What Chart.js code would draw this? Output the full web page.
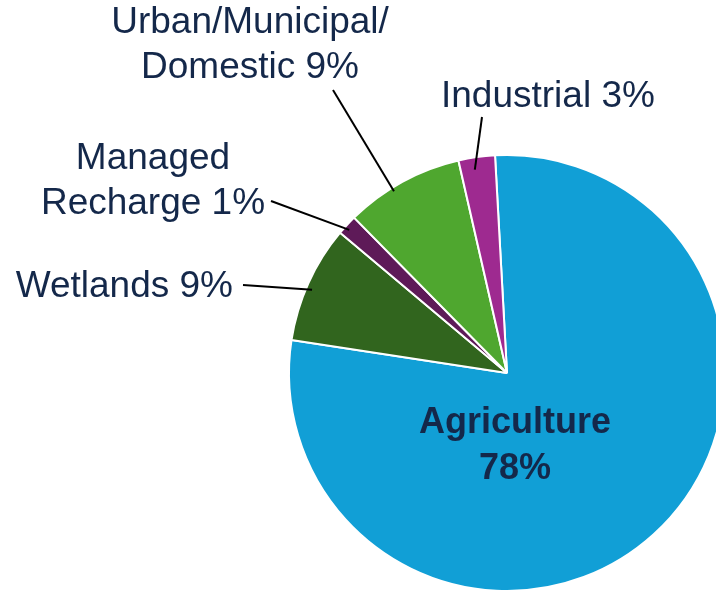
<!DOCTYPE html>
<html>
<head>
<meta charset="utf-8">
<script src="https://cdn.jsdelivr.net/npm/chart.js@4.4.1/dist/chart.umd.min.js"></script>
<style>
  html, body { margin: 0; padding: 0; background: #fff; overflow: hidden; }
  #wrap { position: relative; width: 740px; height: 600px; }
</style>
</head>
<body>
<div id="wrap"><canvas id="graficoUso"></canvas></div>
<script>
// Datos
const categorias = ['Agriculture', 'Wetlands', 'Managed Recharge', 'Urban/Municipal/Domestic', 'Industrial'];
const valores = [78.3, 8.7, 1.5, 8.8, 2.7];
const etiquetas = ['78%', '9%', '1%', '9%', '3%'];
const colores = ['#119fd6', '#31651e', '#5e1a58', '#4fa72f', '#9e2a90'];

const colorTexto = '#14284a';
const fuente = "'Liberation Sans', Arial, sans-serif";

// Posición de los rótulos externos (índice de la porción -> texto y línea guía)
// frac: punto a lo largo de la porción donde termina la línea
const rotulos = [
    { idx: 1, lineas: ['Wetlands ' + etiquetas[1]], x: 233, y: 297, align: 'right', desde: [243, 285], hondo: 6, frac: 0.46 },
    { idx: 2, lineas: ['Managed', 'Recharge ' + etiquetas[2]], x: 153, y: 169, align: 'center', desde: [271, 201], hondo: 5, frac: 0.4 },
    { idx: 3, lineas: ['Urban/Municipal/', 'Domestic ' + etiquetas[3]], x: 250, y: 33, align: 'center', desde: [333, 90], hondo: 4, frac: 0.4 },
    { idx: 4, lineas: ['Industrial ' + etiquetas[4]], x: 441, y: 107, align: 'left', desde: [482, 117], hondo: 12, frac: 0.4 }
];

const pluginRotulos = {
    id: 'rotulos',
    afterDatasetsDraw(chart) {
        const ctx = chart.ctx;
        const arcs = chart.getDatasetMeta(0).data;
        ctx.save();

        // líneas guía
        ctx.strokeStyle = '#000';
        ctx.lineWidth = 2;
        rotulos.forEach(r => {
            const p = arcs[r.idx].getProps(['x', 'y', 'startAngle', 'endAngle', 'outerRadius'], true);
            const ang = p.startAngle + (p.endAngle - p.startAngle) * r.frac;
            const rr = p.outerRadius - r.hondo;
            ctx.beginPath();
            ctx.moveTo(r.desde[0], r.desde[1]);
            ctx.lineTo(p.x + Math.cos(ang) * rr, p.y + Math.sin(ang) * rr);
            ctx.stroke();
        });

        // textos
        ctx.fillStyle = colorTexto;
        ctx.textBaseline = 'alphabetic';
        ctx.font = '37px ' + fuente;
        rotulos.forEach(r => {
            ctx.textAlign = r.align;
            r.lineas.forEach((t, i) => ctx.fillText(t, r.x, r.y + i * 45));
        });

        // rótulo interior
        const ag = arcs[0].getProps(['x', 'y'], true);
        ctx.font = 'bold 36px ' + fuente;
        ctx.textAlign = 'center';
        ctx.fillText(categorias[0], ag.x + 8, 433);
        ctx.fillText(etiquetas[0], ag.x + 8, 479);
        ctx.restore();
    }
};

new Chart(document.getElementById('graficoUso').getContext('2d'), {
    type: 'pie',
    data: {
        labels: categorias,
        datasets: [{
            data: valores,
            backgroundColor: colores,
            borderColor: '#ffffff',
            borderWidth: 2
        }]
    },
    options: {
        responsive: true,
        maintainAspectRatio: false,
        animation: false,
        rotation: -3.15,
        layout: {
            padding: { left: 288, top: 154, right: 14, bottom: 8 }
        },
        plugins: {
            legend: { display: false },
            tooltip: { enabled: false }
        }
    },
    plugins: [pluginRotulos]
});
</script>
</body>
</html>
